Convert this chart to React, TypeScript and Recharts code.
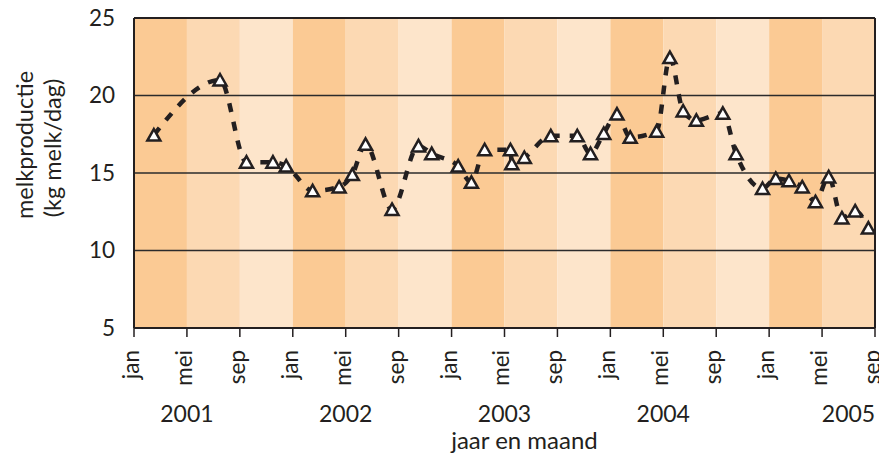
import React from 'react';
import {
  ComposedChart,
  Line,
  XAxis,
  YAxis,
  ReferenceArea,
  ReferenceLine,
  ReferenceDot,
  Label,
} from 'recharts';

// month position (0 = start of jan 2001, fractional = mid-month)
const monthPos = [
  1.5, 6.5, 8.5, 10.5, 11.5, 13.5, 15.5, 16.5, 17.5, 19.5, 21.5, 22.5, 24.5, 25.5, 26.5,
  28.45, 28.55, 29.5, 31.5, 33.5, 34.5, 35.5, 36.5, 37.5, 39.5, 40.5, 41.5, 42.5, 44.5,
  45.5, 47.5, 48.5, 49.5, 50.5, 51.5, 52.5, 53.5, 54.5, 55.5,
];
// melkproductie (kg melk/dag)
const production = [
  17.45, 21.0, 15.7, 15.7, 15.45, 13.85, 14.1, 14.9, 16.85, 12.65, 16.75, 16.25, 15.45, 14.4,
  16.5, 16.5, 15.6, 16.0, 17.4, 17.4, 16.25, 17.55, 18.8, 17.3, 17.7, 22.45, 19.0, 18.4,
  18.85, 16.25, 14.0, 14.65, 14.5, 14.1, 13.15, 14.75, 12.1, 12.55, 11.45,
];

const tickMonths = [0, 4, 8, 12, 16, 20, 24, 28, 32, 36, 40, 44, 48, 52, 56];
const tickLabels = ['jan', 'mei', 'sep', 'jan', 'mei', 'sep', 'jan', 'mei', 'sep', 'jan', 'mei', 'sep', 'jan', 'mei', 'sep'];
const yearLabels = ['2001', '2002', '2003', '2004', '2005'];
const yearPos = [4, 16, 28, 40, 54];
const bandColors = ['#FBCA94', '#FCD9B3', '#FDE5CB'];
const yTicks = [5, 10, 15, 20, 25];
const gridValues = [10, 15, 20];

const data = monthPos.map((m, i) => ({ m, v: production[i] }));
const bands = tickMonths.slice(0, -1).map((s, i) => ({ x1: s, x2: tickMonths[i + 1], fill: bandColors[i % 3] }));

const INK = '#231f20';
const FONT = 'Lato, sans-serif';

const Tri = (props: any) => {
  const { cx, cy, index } = props;
  if (cx == null || cy == null) return null;
  return (
    <path
      key={`tri-${index}`}
      d={`M${cx},${cy - 6}L${cx + 6.5},${cy + 5.5}L${cx - 6.5},${cy + 5.5}Z`}
      fill="#ffffff"
      stroke={INK}
      strokeWidth={2.5}
    />
  );
};

const MonthTick = (props: any) => {
  const { x, y, payload } = props;
  const idx = tickMonths.indexOf(payload.value);
  return (
    <g transform={`translate(${x},${y + 11})`}>
      <text
        transform="rotate(-90)"
        x={0}
        y={0}
        dy="0.22em"
        textAnchor="end"
        fontFamily={FONT}
        fontSize={22.5}
        fill={INK}
      >
        {tickLabels[idx]}
      </text>
    </g>
  );
};

const YLabel = (props: any) => {
  const vb = props.viewBox || { x: 66, y: 16, width: 60, height: 310 };
  const cy = vb.y + vb.height / 2 - 28;
  const x1 = vb.x - 49;
  const x2 = vb.x - 21;
  return (
    <g>
      <text
        x={x1}
        y={cy}
        transform={`rotate(-90, ${x1}, ${cy})`}
        textAnchor="middle"
        dy="0.35em"
        fontFamily={FONT}
        fontSize={23.5}
        fill={INK}
      >
        melkproductie
      </text>
      <text
        x={x2}
        y={cy + 3}
        transform={`rotate(-90, ${x2}, ${cy + 3})`}
        textAnchor="middle"
        dy="0.35em"
        fontFamily={FONT}
        fontSize={23.5}
        fill={INK}
      >
        (kg melk/dag)
      </text>
    </g>
  );
};

export default function App() {
  return (
    <div style={{ marginTop: -6, width: 879, height: 457 }}>
      <ComposedChart
        width={879}
        height={457}
        data={data}
        margin={{ top: 16, right: 12, left: 66, bottom: 0 }}
        style={{ overflow: 'visible' }}
      >
        <XAxis
          type="number"
          dataKey="m"
          domain={[0, 56]}
          ticks={tickMonths}
          interval={0}
          allowDataOverflow
          height={131}
          tickSize={9}
          tickLine={{ stroke: INK, strokeWidth: 1.5 }}
          axisLine={{ stroke: INK, strokeWidth: 2 }}
          tick={<MonthTick />}
        >
          <Label
            value="jaar en maand"
            position="insideBottom"
            offset={10}
            dx={20}
            style={{ fontFamily: FONT, fontSize: 24, fill: INK }}
          />
        </XAxis>
        <YAxis
          type="number"
          domain={[5, 25]}
          ticks={yTicks}
          interval={0}
          width={60}
          tickLine={false}
          tickSize={6}
          tickMargin={13}
          axisLine={{ stroke: INK, strokeWidth: 2 }}
          tick={{ fontFamily: FONT, fontSize: 22.5, fill: INK }}
          label={<YLabel />}
        />
        {bands.map((b, i) => (
          <ReferenceArea
            key={`band-${i}`}
            x1={b.x1}
            x2={b.x2}
            y1={5}
            y2={25}
            fill={b.fill}
            fillOpacity={1}
            stroke="none"
            ifOverflow="hidden"
          />
        ))}
        {gridValues.map((g) => (
          <ReferenceLine key={`grid-${g}`} y={g} stroke="#2b2b2b" strokeWidth={1.6} />
        ))}
        <ReferenceLine y={25} stroke={INK} strokeWidth={2} />
        <ReferenceLine x={56} stroke={INK} strokeWidth={2} />
        <Line
          type="monotone"
          dataKey="v"
          stroke={INK}
          strokeWidth={4.5}
          strokeDasharray="9 10"
          dot={<Tri />}
          activeDot={false}
          isAnimationActive={false}
        />
        {yearPos.map((p, i) => (
          <ReferenceDot
            key={`year-${i}`}
            x={p}
            y={5}
            r={0}
            ifOverflow="visible"
            shape={(s: any) => (
              <text
                x={s.cx}
                y={s.cy + 94}
                textAnchor="middle"
                fontFamily={FONT}
                fontSize={23}
                fill={INK}
              >
                {yearLabels[i]}
              </text>
            )}
          />
        ))}
      </ComposedChart>
    </div>
  );
}
